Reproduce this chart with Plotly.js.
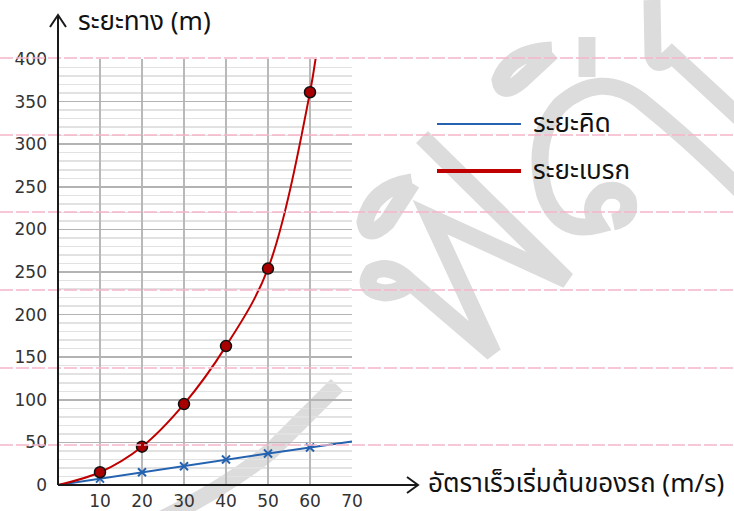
<!DOCTYPE html>
<html><head><meta charset="utf-8">
<script src="https://cdn.plot.ly/plotly-3.0.1.min.js"></script>
<style>html,body{margin:0;padding:0;background:#fff}</style>
</head><body><div id="chart" style="width:734px;height:511px"></div>
<script>
// ---- data ----
const thinkSpeeds = [0, 10, 20, 30, 40, 50, 60, 70];
const thinkDist   = [0, 7.5, 15, 22, 30, 37, 44, 51];
const brakeSpeeds = [0, 10, 20, 30, 40, 50, 60, 62];
const brakeDist   = [0, 15, 45, 95, 163, 254, 461, 525];
const xTickVals = [10, 20, 30, 40, 50, 60, 70];
const xTickText = ['10', '20', '30', '40', '50', '60', '70'];
const yTickVals = [0, 50, 100, 150, 200, 250, 300, 350, 400, 450, 500];
const yTickText = ['0', '50', '100', '150', '200', '250', '200', '250', '300', '350', '400'];
const seriesNames = ['ระยะคิด', 'ระยะเบรก'];
const yTitle = 'ระยะทาง (m)';
const xTitle = 'อัตราเร็วเริ่มต้นของรถ (m/s)';

// ---- geometry helpers (pixel -> paper) ----
const L = 58, W = 294, B = 485, H = 426;
const px = x => (x - L) / W;
const py = y => (B - y) / H;
function pathPx(s) {
  const toks = s.trim().split(/\s+/);
  const out = []; let isX = true;
  for (const t of toks) {
    if (/^[A-Za-z]$/.test(t)) { out.push(t); isX = true; }
    else { const v = parseFloat(t); out.push((isX ? px(v) : py(v)).toFixed(5)); isX = !isX; }
  }
  return out.join(' ');
}
const THAI = '"Noto Sans Thai", "Noto Sans", "DejaVu Sans", sans-serif';
const NUM = '"DejaVu Sans", sans-serif';

const blue = '#2563b0', red = '#c00000';

const traces = [
  { x: thinkSpeeds, y: thinkDist, mode: 'lines', line: { color: blue, width: 2 }, name: seriesNames[0], hoverinfo: 'skip' },
  { x: thinkSpeeds.slice(1, 7), y: thinkDist.slice(1, 7), mode: 'markers',
    marker: { symbol: 'x-thin', size: 8, line: { color: blue, width: 2 } }, hoverinfo: 'skip' },
  { x: brakeSpeeds, y: brakeDist, mode: 'lines', line: { color: red, width: 2, shape: 'spline', smoothing: 1 }, name: seriesNames[1], hoverinfo: 'skip' },
  { x: brakeSpeeds.slice(1, 7), y: brakeDist.slice(1, 7), mode: 'markers',
    marker: { symbol: 'circle', size: 11, color: '#a80000', line: { color: '#111', width: 1.5 } }, hoverinfo: 'skip' }
];

const shapes = [];
// watermark
const wm = { type: 'path', xref: 'paper', yref: 'paper', layer: 'below', line: { color: '#dcdcdc', width: 17 }, fillcolor: 'rgba(0,0,0,0)' };
[
  'M 422 137 L 567 280 L 430 217 L 493 353 L 410 282 Q 390 262 372 272 Q 360 290 385 293 Q 402 292 410 282',
  'M 412 182 Q 372 188 365 222 Q 368 240 387 222 L 412 183',
  'M 552 50 Q 510 52 500 80 Q 502 97 522 80 L 552 52',
  'M 587 37 L 587 77',
  'M 613 222 Q 632 218 628 200 Q 620 186 603 192 Q 585 205 598 225 Q 560 235 545 195 Q 530 140 560 105 Q 600 70 640 100 Q 690 140 740 190',
  'M 652 0 L 653 55 Q 657 70 672 55 L 740 118',
  'M 337 385 L 272 450 Q 230 485 160 520'
].forEach(p => shapes.push(Object.assign({}, wm, { path: pathPx(p) })));

// pink ruled lines
[58, 135, 212, 290, 368, 445].forEach(yy => shapes.push({
  type: 'line', xref: 'paper', yref: 'paper', x0: px(0), x1: px(734), y0: py(yy), y1: py(yy),
  line: { color: '#f5b5c9', width: 1.5, dash: '13px,3px' }, layer: 'above'
}));

// axes with arrows
const ax = { xref: 'paper', yref: 'paper', line: { color: '#1a1a1a', width: 2 }, layer: 'above' };
shapes.push(Object.assign({ type: 'line', x0: 0, x1: 0, y0: 0, y1: py(15) }, ax));
shapes.push(Object.assign({ type: 'line', x0: 0, x1: px(417), y0: 0, y1: 0 }, ax));
shapes.push(Object.assign({ type: 'path', path: pathPx('M 50 27 L 58 15 L 66 27'), fillcolor: 'rgba(0,0,0,0)' }, ax));
shapes.push(Object.assign({ type: 'path', path: pathPx('M 407 477 L 418 485 L 407 493'), fillcolor: 'rgba(0,0,0,0)' }, ax));

// manual legend lines
shapes.push({ type: 'line', xref: 'paper', yref: 'paper', x0: px(437), x1: px(521), y0: py(124), y1: py(124), line: { color: blue, width: 2 } });
shapes.push({ type: 'line', xref: 'paper', yref: 'paper', x0: px(437), x1: px(521), y0: py(171), y1: py(171), line: { color: red, width: 4 } });

const tf = { family: THAI, size: 26, color: '#111' };
const annotations = [
  { text: yTitle, xref: 'paper', yref: 'paper', x: px(76), y: py(22), xanchor: 'left', yanchor: 'middle', showarrow: false, font: tf },
  { text: xTitle, xref: 'paper', yref: 'paper', x: px(426), y: py(484), xanchor: 'left', yanchor: 'middle', showarrow: false, font: tf },
  { text: seriesNames[0], xref: 'paper', yref: 'paper', x: px(531), y: py(124), xanchor: 'left', yanchor: 'middle', showarrow: false, font: tf },
  { text: seriesNames[1], xref: 'paper', yref: 'paper', x: px(531), y: py(171), xanchor: 'left', yanchor: 'middle', showarrow: false, font: tf }
];

const layout = {
  width: 734, height: 511,
  margin: { l: L, r: 734 - L - W, t: B - H, b: 511 - B, pad: 0 },
  paper_bgcolor: '#fff', plot_bgcolor: 'rgba(0,0,0,0)',
  showlegend: false,
  xaxis: {
    range: [0, 70], tickvals: xTickVals, ticktext: xTickText,
    showgrid: true, gridcolor: '#b9b9b9', gridwidth: 1.5,
    zeroline: false, showline: false, ticks: '', ticklabelstandoff: 4,
    tickfont: { family: NUM, size: 17, color: '#333' }
  },
  yaxis: {
    range: [0, 500], tickvals: yTickVals, ticktext: yTickText,
    showgrid: true, gridcolor: '#b3b3b3', gridwidth: 1.5,
    minor: { dtick: 10, tick0: 0, showgrid: true, gridcolor: '#e2e2e2', gridwidth: 1.5 },
    zeroline: false, showline: false, ticks: '', ticklabelstandoff: 10,
    tickfont: { family: NUM, size: 17, color: '#333' }
  },
  shapes: shapes,
  annotations: annotations
};

Plotly.newPlot('chart', traces, layout, { staticPlot: true, displayModeBar: false });
</script>
</body></html>
